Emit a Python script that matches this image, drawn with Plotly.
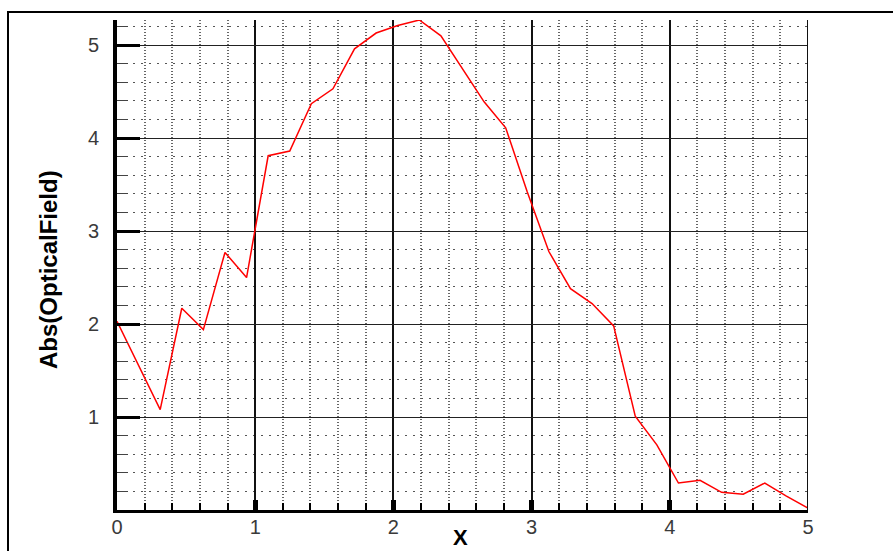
import plotly.graph_objects as go

# Data
x_vals = [0.0, 0.15625, 0.3125, 0.46875, 0.625, 0.78125, 0.9375, 1.09375, 1.25,
          1.40625, 1.5625, 1.71875, 1.875, 2.03125, 2.1875, 2.34375, 2.5,
          2.65625, 2.8125, 2.96875, 3.125, 3.28125, 3.4375, 3.59375, 3.75,
          3.90625, 4.0625, 4.21875, 4.375, 4.53125, 4.6875, 4.84375, 5.0]
y_vals = [2.03, 1.56, 1.08, 2.17, 1.94, 2.77, 2.50, 3.81, 3.86,
          4.37, 4.53, 4.96, 5.13, 5.21, 5.27, 5.10, 4.75,
          4.39, 4.11, 3.42, 2.78, 2.38, 2.22, 1.98, 1.01,
          0.70, 0.29, 0.32, 0.19, 0.17, 0.29, 0.15, 0.02]
x_ticks = [0, 1, 2, 3, 4, 5]
x_tick_text = ["0", "1", "2", "3", "4", "5"]
y_ticks = [1, 2, 3, 4, 5]
y_tick_text = ["1", "2", "3", "4", "5"]

W, H = 893, 551
L, R, T, B = 117, 85, 20, 41
pw = W - L - R
ph = H - T - B

fig = go.Figure()
fig.add_trace(go.Scatter(x=x_vals, y=y_vals, mode="lines",
                         line=dict(color="#ff0000", width=1.5),
                         showlegend=False, hoverinfo="skip"))

tickfont = dict(family="Liberation Sans, Arial, sans-serif", size=20, color="#3a3a3a")

fig.update_xaxes(
    range=[0, 5], tickmode="array", tickvals=x_ticks, ticktext=x_tick_text,
    ticks="inside", ticklen=10, tickwidth=5, tickcolor="black",
    showline=True, linecolor="black", linewidth=3,
    showgrid=True, gridcolor="#111", gridwidth=2,
    zeroline=False, tickfont=tickfont, ticklabelstandoff=-3,
    minor=dict(dtick=0.2, tick0=0, ticks="inside", ticklen=7, tickwidth=1.5,
               tickcolor="black", showgrid=True, gridcolor="#666",
               gridwidth=2, griddash="1px,2px"),
)
fig.update_yaxes(
    range=[0, 5.27], tickmode="array", tickvals=y_ticks, ticktext=y_tick_text,
    ticks="inside", ticklen=23, tickwidth=2.5, tickcolor="black",
    showline=True, linecolor="black", linewidth=4,
    showgrid=True, gridcolor="#222", gridwidth=1.3,
    zeroline=False, tickfont=tickfont, ticklabelstandoff=10,
    minor=dict(dtick=0.2, tick0=0, ticks="inside", ticklen=11, tickwidth=1,
               tickcolor="#444", showgrid=True, gridcolor="#555",
               gridwidth=1, griddash="2px,6px"),
)

shapes = [
    # outer frame
    dict(type="rect", xref="paper", yref="paper",
         x0=(8 - L) / pw, x1=(W + 20 - L) / pw,
         y0=-(B + 20) / ph, y1=(H - B - 12) / ph,
         line=dict(color="black", width=2), fillcolor="rgba(0,0,0,0)", layer="above"),
    # right boundary at x = 5
    dict(type="line", xref="x", yref="paper", x0=5, x1=5, y0=0, y1=1,
         line=dict(color="#111", width=2), layer="above"),
]

annotations = [
    dict(text="<b>Abs(OpticalField)</b>", xref="paper", yref="paper",
         x=(48 - L) / pw, y=(H - B - 270) / ph, xanchor="center", yanchor="middle",
         textangle=-90, showarrow=False,
         font=dict(family="Liberation Sans Narrow, Arial Narrow, Liberation Sans, sans-serif",
                   size=24, color="black")),
    dict(text="<b>X</b>", xref="paper", yref="paper",
         x=(460 - L) / pw, y=(H - B - 537) / ph, xanchor="center", yanchor="middle",
         showarrow=False,
         font=dict(family="Liberation Sans, Arial, sans-serif", size=22, color="black")),
]

fig.update_layout(
    width=W, height=H, autosize=False,
    margin=dict(l=L, r=R, t=T, b=B, pad=0),
    paper_bgcolor="white", plot_bgcolor="white",
    shapes=shapes, annotations=annotations,
    showlegend=False,
)

fig.write_html("out.html", config={"displayModeBar": False},
               post_script="document.body.style.margin='0';document.body.style.overflow='hidden';")
